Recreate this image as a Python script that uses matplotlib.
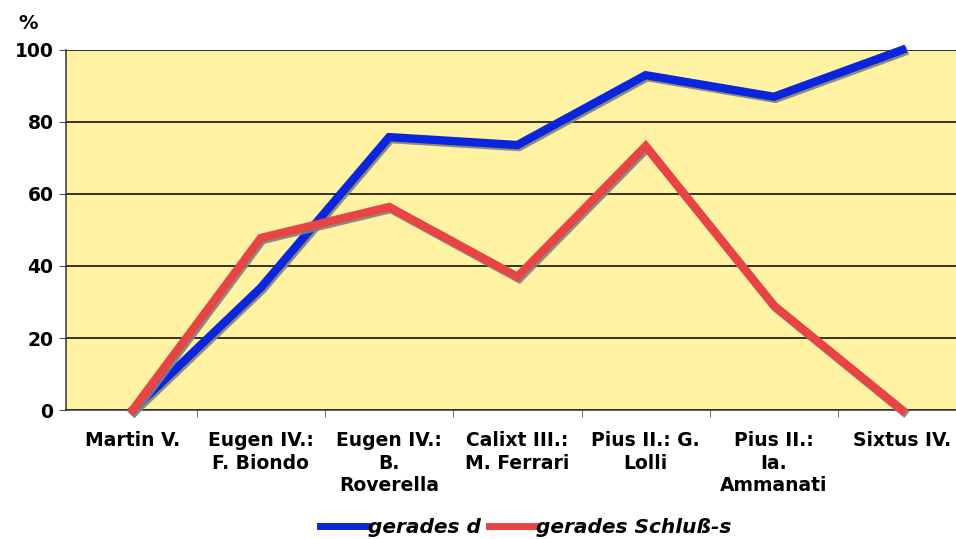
import matplotlib
matplotlib.use("Agg")
import matplotlib.pyplot as plt
import matplotlib.patheffects as pe

categories = ["Martin V.", "Eugen IV.:\nF. Biondo", "Eugen IV.:\nB.\nRoverella",
              "Calixt III.:\nM. Ferrari", "Pius II.: G.\nLolli",
              "Pius II.:\nIa.\nAmmanati", "Sixtus IV."]
gerades_d = [0, 34, 75.8, 73.6, 93, 87, 100]
schluss_s = [0, 47.8, 56.4, 37, 73.3, 29, 0]
y_ticks = [0, 20, 40, 60, 80, 100]

BLUE = "#0A25DC"
RED = "#E84444"
YELLOW = "#FFF3A3"


def main():
    plt.rcParams["font.family"] = "DejaVu Sans"
    fig = plt.figure(figsize=(9.56, 5.39), dpi=100)
    ax = fig.add_axes([0.069, 0.2393, 0.931, 0.668])
    ax.set_facecolor(YELLOW)

    x = list(range(len(categories)))
    shadow = [pe.SimpleLineShadow(offset=(1.2, -1.5), shadow_color="#808080", alpha=0.9),
              pe.Normal()]
    ax.plot(x, gerades_d, color=BLUE, lw=6, label="gerades d",
            solid_joinstyle="miter", path_effects=shadow, zorder=3, clip_on=False)
    ax.plot(x, schluss_s, color=RED, lw=6, label="gerades Schluß-s",
            solid_joinstyle="miter", path_effects=shadow, zorder=4, clip_on=False)

    ax.set_xlim(-0.52, 6.42)
    ax.set_ylim(0, 100)
    ax.set_yticks(y_ticks)
    ax.set_yticklabels([str(v) for v in y_ticks], fontsize=13.5, fontweight="bold")
    ax.yaxis.grid(True, color="black", lw=1.1)
    ax.set_axisbelow(True)

    ax.set_xticks(x)
    ax.set_xticklabels(categories, fontsize=13.5, fontweight="bold", linespacing=1.25)
    ax.set_xticks([i + 0.5 for i in x[:-1]], minor=True)
    ax.tick_params(axis="x", which="major", length=0, pad=15)
    ax.tick_params(axis="x", which="minor", length=5, color="#555555")
    ax.tick_params(axis="y", length=5, color="#555555", pad=4)

    for side in ["top", "right"]:
        ax.spines[side].set_visible(False)
    ax.spines["left"].set_color("#333333")
    ax.spines["bottom"].set_color("#333333")
    ax.spines["left"].set_linewidth(1.1)
    ax.spines["bottom"].set_linewidth(1.1)

    fig.text(0.019, 0.957, "%", fontsize=14, fontweight="bold", va="center")

    leg = fig.legend(loc="lower center", bbox_to_anchor=(0.55, -0.03), ncol=2,
                     frameon=False, handlelength=2.3, handletextpad=0.05,
                     columnspacing=0.4,
                     prop={"size": 14.5, "weight": "bold", "style": "italic"})
    for line in leg.get_lines():
        line.set_path_effects([])
        line.set_linewidth(5)

    fig.savefig("out.png", dpi=100)


if __name__ == "__main__":
    main()
